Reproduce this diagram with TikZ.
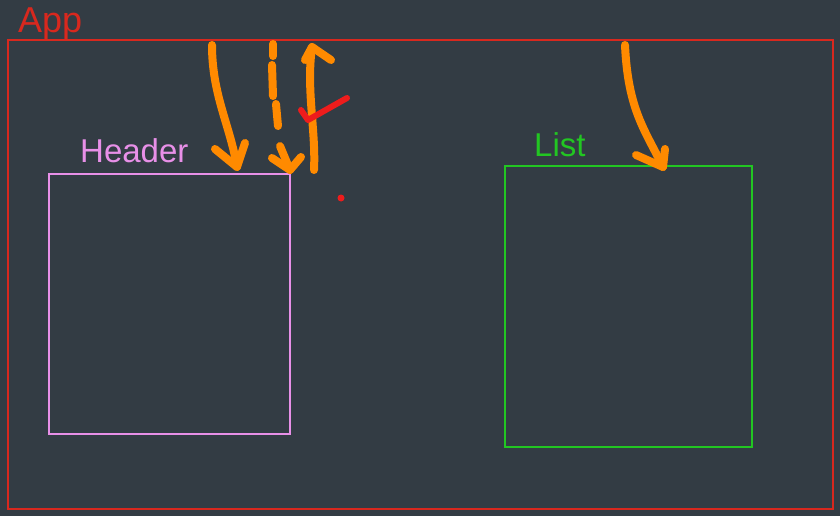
\documentclass[tikz,border=0pt]{standalone}
\usepackage{fontspec}
\setmainfont{Liberation Sans}
\definecolor{bgc}{HTML}{333C44}
\definecolor{appred}{HTML}{D8281E}
\definecolor{hdrpink}{HTML}{E890E8}
\definecolor{lstgreen}{HTML}{22C622}
\definecolor{mark}{HTML}{FF8A00}
\definecolor{chk}{HTML}{EE1C1C}
\begin{document}
\begin{tikzpicture}[x=1pt,y=-1pt,
  boxline/.style={line width=2pt},
  lbl/.style={anchor=base west,inner sep=0pt,font=\fontsize{33}{36}\selectfont},
  pen/.style={draw=mark,line width=8pt,line cap=round,line join=round}]
\fill[bgc] (0,0) rectangle (840,516);
\useasboundingbox (0,0) rectangle (840,516);
% boxes
\coordinate (appnw) at (8,40.5);
\coordinate (appse) at (833,508.5);
\draw[appred,boxline] (appnw) rectangle (appse);
\coordinate (hdrnw) at (49,174);
\coordinate (hdrse) at (290,434);
\draw[hdrpink,boxline] (hdrnw) rectangle (hdrse);
\coordinate (lstnw) at (505,166);
\coordinate (lstse) at (752,447);
\draw[lstgreen,boxline] (lstnw) rectangle (lstse);
% labels
\node[lbl,text=appred,font=\fontsize{36}{40}\selectfont] (applbl) at (18,33) {App};
\node[lbl,text=hdrpink] (hdrlbl) at (80,162) {Header};
\node[lbl,text=lstgreen] (lstlbl) at (534,157) {List};
% marks coordinates
\coordinate (a1s) at (212,45);
\coordinate (a1e) at (237,167);
\coordinate (a2s) at (273,44);
\coordinate (a2e) at (290,170);
\coordinate (a3s) at (314,170);
\coordinate (a3e) at (312,47);
\coordinate (a4s) at (625,45);
\coordinate (a4e) at (663,167);
% arrow 1
\draw[pen] (a1s) .. controls (212,95) and (230,125) .. (a1e);
\draw[pen] (215,149) -- (a1e) -- (245,143);
% arrow 2 dashed
\draw[pen] (a2s) -- (273,56);
\draw[pen] (272,65) -- (273,96);
\draw[pen] (276,104) -- (278,126);
\draw[pen] (280,146) -- (a2e);
\draw[pen] (272,158) -- (a2e) -- (301,157);
% arrow 3 upward
\draw[pen] (a3s) .. controls (316,130) and (306,90) .. (a3e);
\draw[pen] (305,60) -- (a3e) -- (331,60);
% arrow 4
\draw[pen] (a4s) .. controls (628,110) and (645,130) .. (a4e);
\draw[pen] (636,155) -- (a4e) -- (665,149);
% check mark
\coordinate (c1) at (301,110);
\coordinate (c2) at (308,120);
\coordinate (c3) at (347,98);
\draw[draw=chk,line width=6pt,line cap=round,line join=round] (c1) -- (c2) -- (c3);
\fill[chk] (341,198) circle (3.5pt);
\end{tikzpicture}
\end{document}
